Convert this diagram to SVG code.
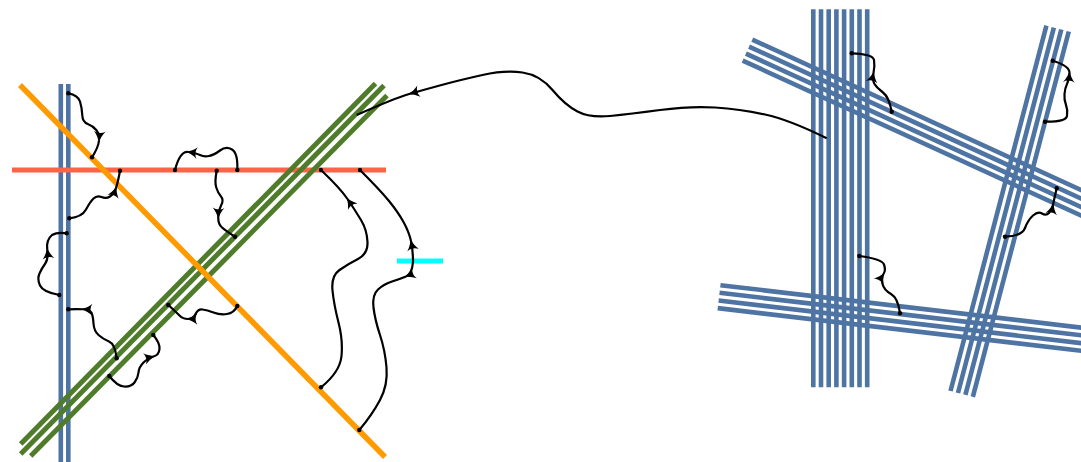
<svg xmlns="http://www.w3.org/2000/svg" width="1081" height="462" viewBox="0 0 1081 462">
<style>
.bl{stroke:#4e74a3;stroke-width:4.6;fill:none}
.gr{stroke:#4f7c2a;stroke-width:5;fill:none}
.c{stroke:#000;stroke-width:2.2;fill:none}
.a{stroke:#000;stroke-width:2.2;fill:none;marker-end:url(#ah)}
.d{fill:#000}
</style>
<defs>
<marker id="ah" viewBox="-10 -6 12 12" refX="0" refY="0" markerWidth="14" markerHeight="14" markerUnits="userSpaceOnUse" orient="auto">
<path d="M1.5,0 C-2,-1 -5,-2.5 -8,-5 C-6,-2 -6,2 -8,5 C-5,2.5 -2,1 1.5,0 Z" fill="#000"/>
</marker>
</defs>
<rect width="1081" height="462" fill="#fff"/>
<g id="blue-left">
<line class="bl" x1="60.8" y1="84" x2="60.8" y2="465"/>
<line class="bl" x1="68.3" y1="84" x2="68.3" y2="465"/>
</g>
<g id="red-line"><line x1="12" y1="170" x2="386" y2="170" stroke="#ff6347" stroke-width="5"/></g>
<g id="green-band">
<line class="gr" x1="20.7" y1="444" x2="375.5" y2="83.5"/>
<line class="gr" x1="20.7" y1="454" x2="384" y2="85.5"/>
<line class="gr" x1="30.7" y1="456" x2="387" y2="95.5"/>
</g>
<g id="orange-line"><line x1="20" y1="85" x2="385" y2="457" stroke="#ff9a00" stroke-width="5.5"/></g>
<g id="cyan-bar"><line x1="397" y1="261" x2="443" y2="261" stroke="#00ffff" stroke-width="5"/></g>
<g id="bundle-vertical">
<line class="bl" x1="813.3" y1="9.3" x2="813.3" y2="387.3"/>
<line class="bl" x1="821" y1="9.3" x2="821" y2="387.3"/>
<line class="bl" x1="828.7" y1="9.3" x2="828.7" y2="387.3"/>
<line class="bl" x1="836.4" y1="9.3" x2="836.4" y2="387.3"/>
<line class="bl" x1="844.1" y1="9.3" x2="844.1" y2="387.3"/>
<line class="bl" x1="851.8" y1="9.3" x2="851.8" y2="387.3"/>
<line class="bl" x1="859.5" y1="9.3" x2="859.5" y2="387.3"/>
<line class="bl" x1="867.2" y1="9.3" x2="867.2" y2="387.3"/>
</g>
<g id="bundle-upper">
<line class="bl" x1="752.26" y1="39.57" x2="1115.86" y2="205.97"/>
<line class="bl" x1="749.06" y1="46.57" x2="1112.66" y2="212.97"/>
<line class="bl" x1="745.85" y1="53.57" x2="1109.45" y2="219.97"/>
<line class="bl" x1="742.65" y1="60.57" x2="1106.25" y2="226.97"/>
</g>
<g id="bundle-lower">
<line class="bl" x1="720.41" y1="285.18" x2="1117.7" y2="331.9"/>
<line class="bl" x1="719.51" y1="292.83" x2="1116.8" y2="339.5"/>
<line class="bl" x1="718.61" y1="300.48" x2="1115.9" y2="347.2"/>
<line class="bl" x1="717.71" y1="308.13" x2="1115" y2="354.8"/>
</g>
<g id="bundle-tilted">
<line class="bl" x1="1046.42" y1="25.63" x2="950.52" y2="391.03"/>
<line class="bl" x1="1053.87" y1="27.59" x2="957.97" y2="392.99"/>
<line class="bl" x1="1061.31" y1="29.54" x2="965.41" y2="394.94"/>
<line class="bl" x1="1068.76" y1="31.5" x2="972.86" y2="396.9"/>
</g>
<g id="connectors">
<path class="a" d="M68.3,93.3 Q78,95 80,101.5 Q82,108 82.25,115 Q82.5,122 87.75,124 Q93,126 96.25,130 Q99.5,134 99,140.5"/>
<path class="c" d="M99,140.5 Q98.5,147 92,157.3"/>
<path class="a" d="M69.3,218.3 Q82,217 86,209.5 Q90,202 93.5,198.5 Q97,195 101.5,197 Q106,199 110,196.5 Q114,194 116,188"/>
<path class="c" d="M116,188 Q118,182 120,170.7"/>
<path class="a" d="M237.3,170 Q238,153 232,149.5 Q226,146 220,150.5 Q214,155 209,156 Q204,157 200,155 Q196,153 188,152"/>
<path class="c" d="M188,152 Q180,151 175,170"/>
<path class="a" d="M216.7,170.7 Q214.5,182 216.25,187.5 Q218,193 221,196.5 Q224,200 221.25,205 Q218.5,210 218.25,217"/>
<path class="c" d="M218.25,217 Q218,224 222,227.5 Q226,231 235,236.7"/>
<path class="a" d="M59.3,295 Q43,292 40,285.5 Q37,279 39.5,273.5 Q42,268 45.25,263.5 Q48.5,259 47.25,249.5"/>
<path class="c" d="M47.25,249.5 Q46,240 52,235 Q57,232 66.7,233.3"/>
<path class="a" d="M116.7,358.3 Q115,344 109,341.5 Q103,339 98.5,335 Q94,331 93.5,323.5 Q93,316 91.5,312.75 Q90,309.5 83,309.25"/>
<path class="c" d="M83,309.25 Q76,309 68.3,309.3"/>
<path class="a" d="M109.3,376 Q117,386 124,386.5 Q131,387 134.5,382.5 Q138,378 138.5,372.5 Q139,367 143.5,362.5 Q148,358 153.5,356.5"/>
<path class="c" d="M153.5,356.5 Q159,355 159.5,349 Q160,343 153.3,335"/>
<path class="a" d="M237.3,306 Q234,313 227,314 Q220,315 213.5,312.5 Q207,310 202.5,309.5 Q198,309 195.5,314 Q193,319 188,319"/>
<path class="c" d="M188,319 Q183,319 179.5,315.5 Q176,312 168.3,305"/>
<path class="a" d="M321,387.3 Q340,372 341.5,356 Q343,340 338.5,322.5 Q334,305 332.5,290.5 Q331,276 339.5,270 Q348,264 358,259 Q368,254 367.5,242 Q367,230 361,220 Q355,210 347.5,199"/>
<path class="c" d="M347.5,199 Q340,188 321,170"/>
<path class="a" d="M413,262 Q413,250 411,241"/>
<path class="c" d="M411,241 Q409,232 403.5,222 Q398,212 389,201 Q380,190 360,170"/>
<path class="a" d="M413,262 Q412,274 406,276.5"/>
<path class="c" d="M406,276.5 Q400,279 392,281.5 Q384,284 378,289.5 Q372,295 373.5,307.5 Q375,320 380,335 Q385,350 386.5,367.5 Q388,385 380,400 Q372,415 359.3,430"/>
<path class="a" d="M826.7,138.3 Q790,120 765,114.5 Q740,109 715,107.5 Q690,106 660,110 Q630,114 610,116 Q590,118 577.5,111.5 Q565,105 552.5,90 Q540,75 522.5,72.5 Q505,70 482.5,75 Q460,80 442.5,84.75 Q425,89.5 410,93.75"/>
<path class="c" d="M410,93.75 Q395,98 356.7,115"/>
<path class="a" d="M891.7,111.7 Q889,97 883,92.5 Q877,88 874.5,84 Q872,80 873.5,73"/>
<path class="c" d="M873.5,73 Q875,66 874,60 Q873,54 851.7,53.3"/>
<path class="a" d="M1045,121.7 Q1066,122 1067,116 Q1068,110 1066,105 Q1064,100 1064.5,94 Q1065,88 1067,84 Q1069,80 1069.5,73"/>
<path class="c" d="M1069.5,73 Q1070,66 1052.7,60.7"/>
<path class="a" d="M1005,236.7 Q1022,236 1025,228 Q1028,220 1033,215.5 Q1038,211 1042,213.5 Q1046,216 1049,213 Q1052,210 1053,205"/>
<path class="c" d="M1053,205 Q1054,200 1056.7,188.3"/>
<path class="a" d="M900,313.3 Q898,298 891,294 Q884,290 882.5,284 Q881,278 883.5,274"/>
<path class="c" d="M883.5,274 Q886,270 884,264.5 Q882,259 859.3,256"/>
<circle class="d" cx="68.3" cy="93.3" r="2.2"/><circle class="d" cx="92" cy="157.3" r="2.2"/>
<circle class="d" cx="69.3" cy="218.3" r="2.2"/><circle class="d" cx="120" cy="170.7" r="2.2"/>
<circle class="d" cx="237.3" cy="170" r="2.2"/><circle class="d" cx="175" cy="170" r="2.2"/>
<circle class="d" cx="216.7" cy="170.7" r="2.2"/><circle class="d" cx="235" cy="236.7" r="2.2"/>
<circle class="d" cx="59.3" cy="295" r="2.2"/><circle class="d" cx="66.7" cy="233.3" r="2.2"/>
<circle class="d" cx="116.7" cy="358.3" r="2.2"/><circle class="d" cx="68.3" cy="309.3" r="2.2"/>
<circle class="d" cx="109.3" cy="376" r="2.2"/><circle class="d" cx="153.3" cy="335" r="2.2"/>
<circle class="d" cx="237.3" cy="306" r="2.2"/><circle class="d" cx="168.3" cy="305" r="2.2"/>
<circle class="d" cx="321" cy="387.3" r="2.2"/><circle class="d" cx="321" cy="170" r="2.2"/>
<circle class="d" cx="360" cy="170" r="2.2"/><circle class="d" cx="359.3" cy="430" r="2.2"/>
<circle class="d" cx="891.7" cy="111.7" r="2.2"/><circle class="d" cx="851.7" cy="53.3" r="2.2"/>
<circle class="d" cx="1045" cy="121.7" r="2.2"/><circle class="d" cx="1052.7" cy="60.7" r="2.2"/>
<circle class="d" cx="1005" cy="236.7" r="2.2"/><circle class="d" cx="1056.7" cy="188.3" r="2.2"/>
<circle class="d" cx="900" cy="313.3" r="2.2"/><circle class="d" cx="859.3" cy="256" r="2.2"/>
</g>
</svg>
